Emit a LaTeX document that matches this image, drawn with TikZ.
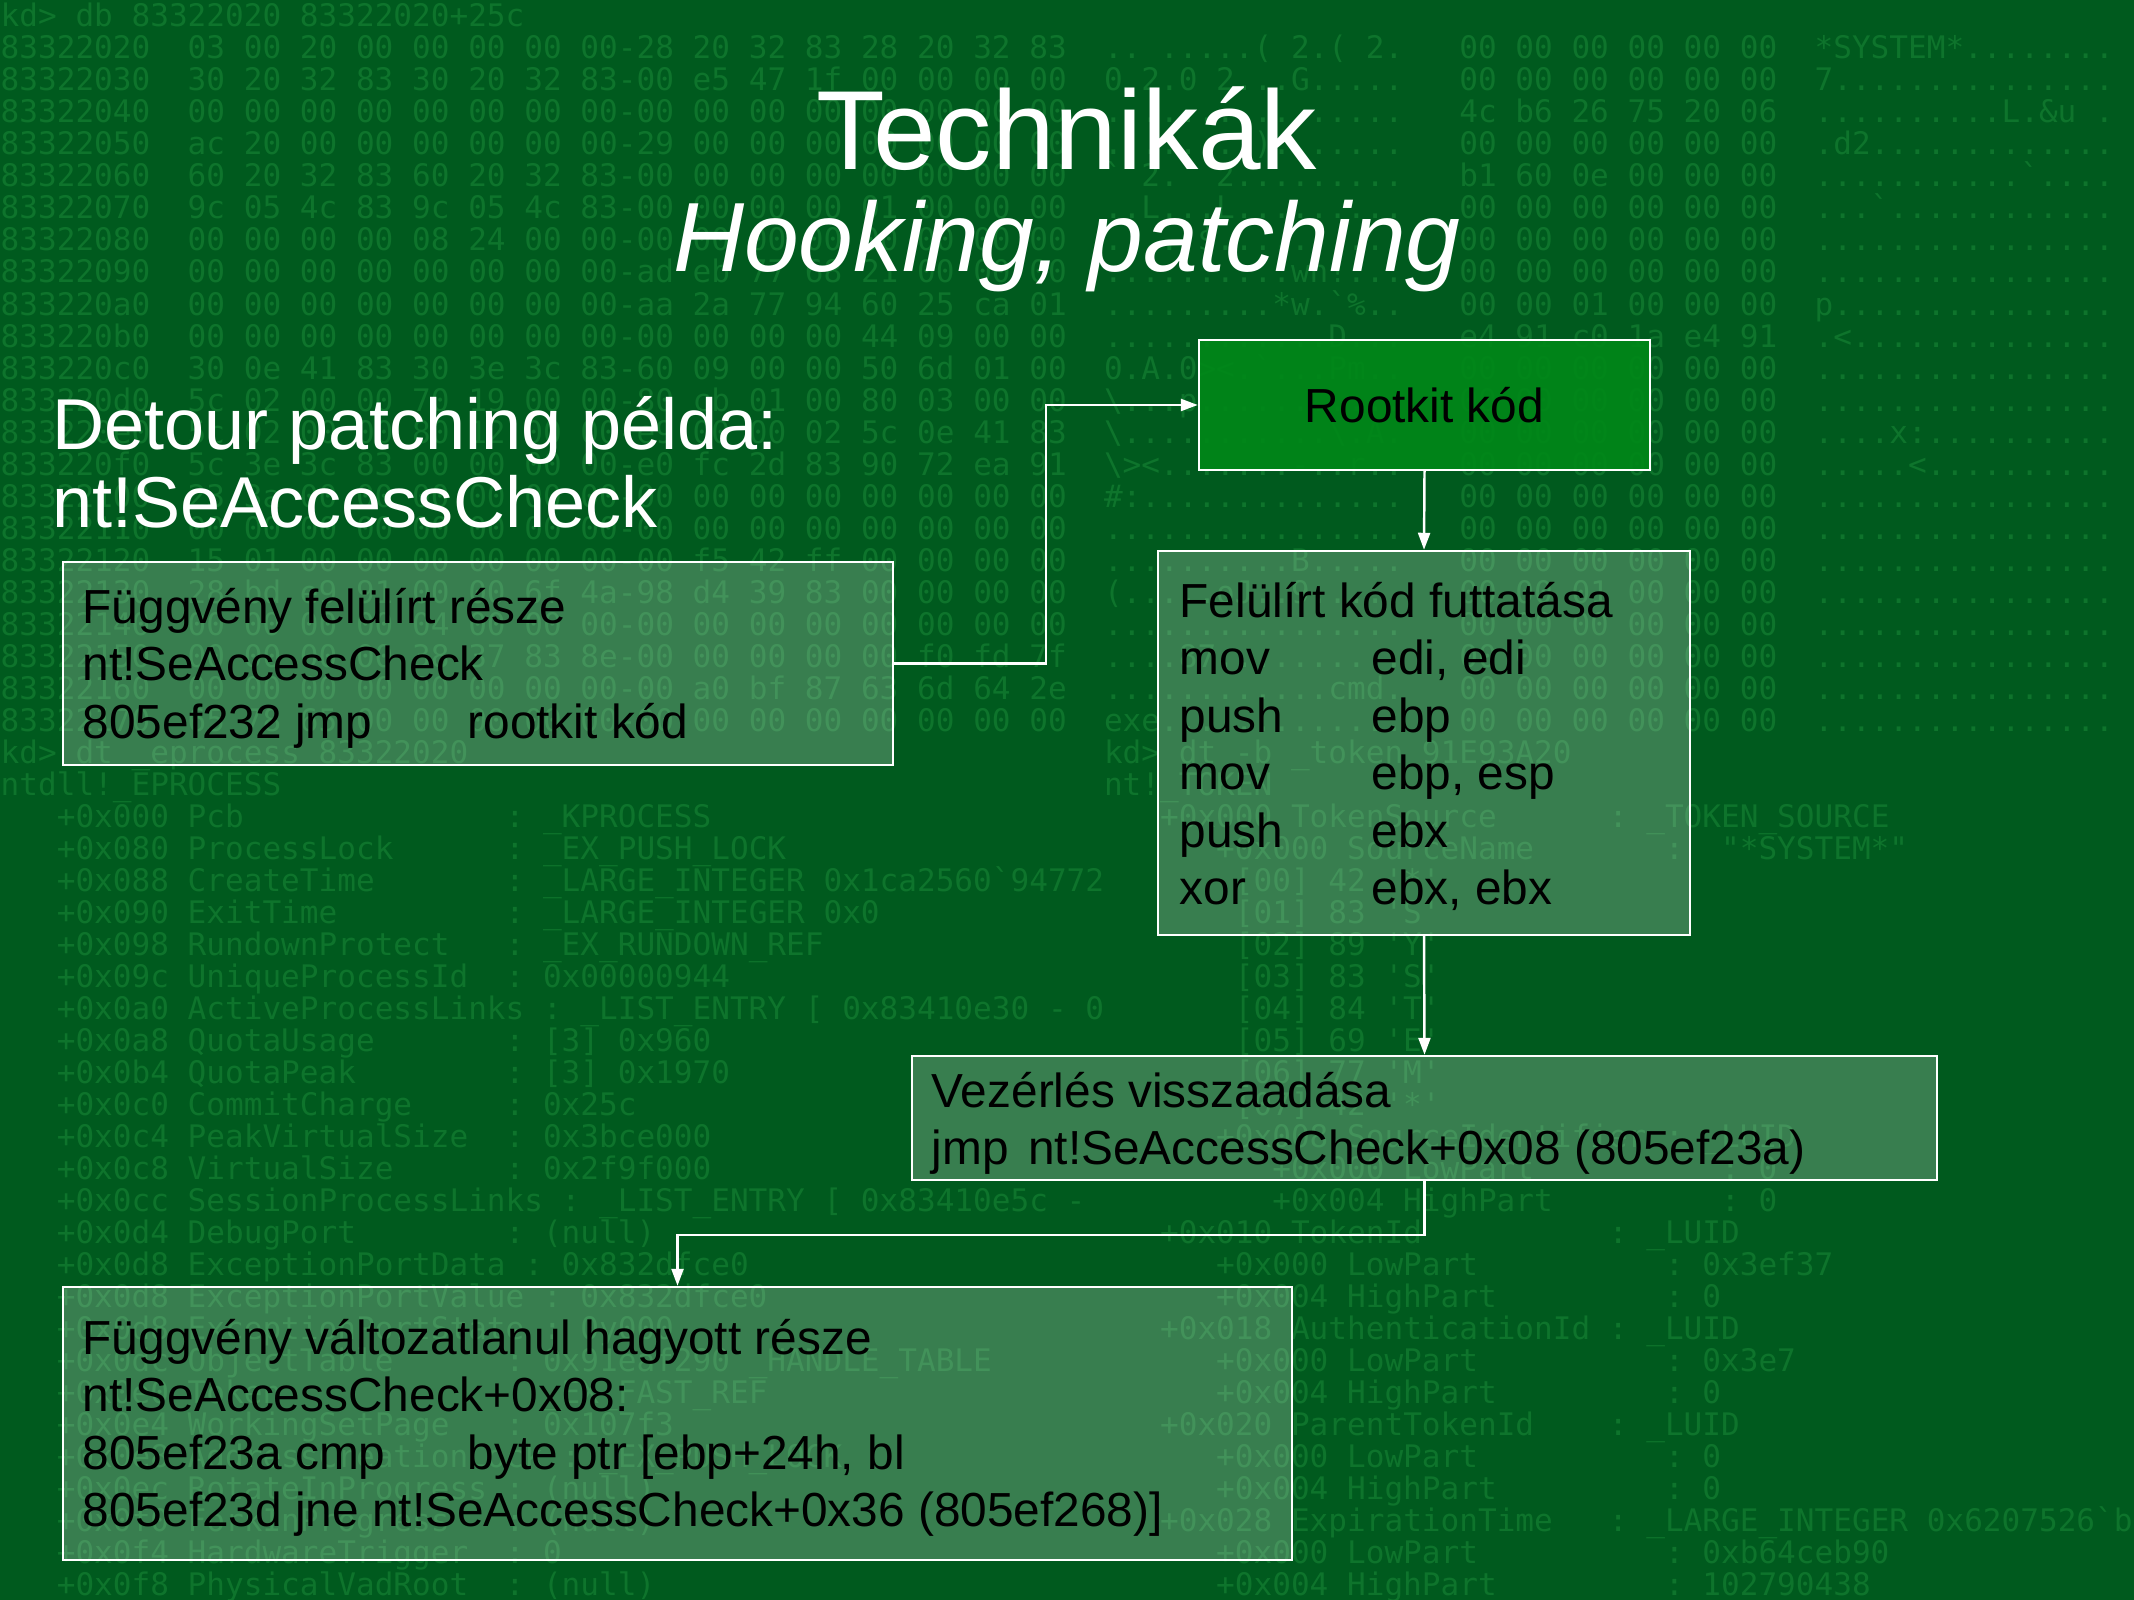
\documentclass[tikz,border=0pt]{standalone}
\usepackage{fontspec}
\setmainfont{Liberation Sans}
\setmonofont{DejaVu Sans Mono}
\usetikzlibrary{arrows.meta}

\definecolor{slidebg}{RGB}{0,90,30}
\definecolor{dumpgreen}{RGB}{14,116,44}
\definecolor{rootgreen}{RGB}{0,136,24}

\begin{document}
\begin{tikzpicture}[
    dump/.style={anchor=base west, inner sep=0pt, text=dumpgreen, font=\fontsize{8.84}{10}\ttfamily\frenchspacing},
    panel/.style={draw=white, line width=0.7pt, fill=white, fill opacity=0.22, text opacity=1, inner sep=0pt},
    hook/.style={panel, fill=rootgreen, fill opacity=0.9, font=\fontsize{13.6}{16}\selectfont},
    code/.style={anchor=base west, inner sep=0pt, font=\fontsize{13.6}{16}\selectfont},
    heading/.style={anchor=base west, inner sep=0pt, text=white, font=\fontsize{20.5}{24}\selectfont},
    flow/.style={draw=white, line width=0.7pt, -{Triangle[length=0.17cm,width=0.12cm]}}
]

% Slide background
\useasboundingbox (0,0) rectangle (21.34,-16);
\fill[slidebg] (0,0) rectangle (21.34,-16);

% Debugger dump in the background
\node[dump] (cmd0) at (0,-0.27) {kd> db 83322020 83322020+25c};
\foreach \k/\adr/\hex/\asc/\hexb/\ascb in {
  1/83322020/{03 00 20 00 00 00 00 00-28 20 32 83 28 20 32 83}/{.. .....( 2.( 2.}/{00 00 00 00 00 00}/{*SYSTEM*........},
  2/83322030/{30 20 32 83 30 20 32 83-00 e5 47 1f 00 00 00 00}/{0 2.0 2...G.....}/{00 00 00 00 00 00}/{7...............},
  3/83322040/{00 00 00 00 00 00 00 00-00 00 00 00 00 00 00 00}/{................}/{4c b6 26 75 20 06}/{..........L.\&u .},
  4/83322050/{ac 20 00 00 00 00 00 00-29 00 00 00 00 00 00 00}/{. ......).......}/{00 00 00 00 00 00}/{.d2.............},
  5/83322060/{60 20 32 83 60 20 32 83-00 00 00 00 00 00 00 00}/{` 2.` 2.........}/{b1 60 0e 00 00 00}/{...........`....},
  6/83322070/{9c 05 4c 83 9c 05 4c 83-00 00 00 00 01 00 00 00}/{..L...L.........}/{00 00 00 00 00 00}/{...`............},
  7/83322080/{00 00 00 00 08 24 00 00-00 00 00 00 00 00 00 00}/{.....\$..........}/{00 00 00 00 00 00}/{................},
  8/83322090/{00 00 00 00 00 00 00 00-ad eb 77 68 21 00 00 00}/{..........wh!...}/{00 00 00 00 00 00}/{................},
  9/833220a0/{00 00 00 00 00 00 00 00-aa 2a 77 94 60 25 ca 01}/{.........*w.`\%..}/{00 00 01 00 00 00}/{p...............},
  10/833220b0/{00 00 00 00 00 00 00 00-00 00 00 00 44 09 00 00}/{............D...}/{e4 91 c0 1a e4 91}/{.<..............},
  11/833220c0/{30 0e 41 83 30 3e 3c 83-60 09 00 00 50 6d 01 00}/{0.A.0><.`...Pm..}/{00 00 00 00 00 00}/{................},
  12/833220d0/{5c 02 00 00 70 19 00 00-80 cb 01 00 80 03 00 00}/{\textbackslash...p...........}/{00 00 00 00 00 00}/{................},
  13/833220e0/{5c 02 00 00 80 12 00 00-e9 00 00 02 5c 0e 41 83}/{\textbackslash...........\textbackslash.A.}/{00 00 00 00 00 00}/{....x:..........},
  14/833220f0/{5c 3e 3c 83 00 00 00 00-e0 fc 2d 83 90 72 ea 91}/{\textbackslash><.......-..r..}/{00 00 00 00 00 00}/{.....<..........},
  15/83322100/{23 3a 00 00 00 00 00 00-00 00 00 00 00 00 00 00}/{\#:..............}/{00 00 00 00 00 00}/{................},
  16/83322110/{00 00 00 00 00 00 00 00-00 00 00 00 00 00 00 00}/{................}/{00 00 00 00 00 00}/{................},
  17/83322120/{15 01 00 00 00 00 00 00-00 f5 42 ff 00 00 00 00}/{..........B.....}/{00 00 00 00 00 00}/{................},
  18/83322130/{28 bd e9 91 00 00 6f 4a-98 d4 39 83 00 00 00 00}/{(.....oJ..9.....}/{00 00 01 00 00 00}/{................},
  19/83322140/{00 00 00 00 04 00 00 00-00 00 00 00 00 00 00 00}/{................}/{00 00 00 00 00 00}/{................},
  20/83322150/{00 00 00 00 38 37 83 8e-00 00 00 00 00 f0 fd 7f}/{....87..........}/{00 00 00 00 00 00}/{................},
  21/83322160/{00 00 00 00 00 00 00 00-00 a0 bf 87 63 6d 64 2e}/{............cmd.}/{00 00 00 00 00 00}/{................},
  22/83322170/{65 78 65 00 00 00 00 00-00 00 00 00 00 00 00 00}/{exe.............}/{00 00 00 00 00 00}/{................}}{
  \node[dump] (adr\k) at (0,{-0.27-0.32*\k}) {\adr};
  \node[dump] (hex\k) at ({10*0.187},{-0.27-0.32*\k}) {\hex};
  \node[dump] (asc\k) at ({59*0.187},{-0.27-0.32*\k}) {\asc};
  \node[dump] (hexb\k) at ({78*0.187},{-0.27-0.32*\k}) {\hexb};
  \node[dump] (ascb\k) at ({97*0.187},{-0.27-0.32*\k}) {\ascb};
}

\node[dump] (cmd23) at (0,{-0.27-0.32*23}) {kd> dt \_eprocess 83322020};
\node[dump] (cmd24) at (0,{-0.27-0.32*24}) {ntdll!\_EPROCESS};
\foreach \k/\off/\nm/\cc/\val in {
  25/000/Pcb/27/\_KPROCESS,
  26/080/ProcessLock/27/\_EX\_PUSH\_LOCK,
  27/088/CreateTime/27/\_LARGE\_INTEGER 0x1ca2560`94772,
  28/090/ExitTime/27/\_LARGE\_INTEGER 0x0,
  29/098/RundownProtect/27/\_EX\_RUNDOWN\_REF,
  30/09c/UniqueProcessId/27/0x00000944,
  31/0a0/ActiveProcessLinks/29/{\_LIST\_ENTRY [ 0x83410e30 - 0},
  32/0a8/QuotaUsage/27/{[3] 0x960},
  33/0b4/QuotaPeak/27/{[3] 0x1970},
  34/0c0/CommitCharge/27/0x25c,
  35/0c4/PeakVirtualSize/27/0x3bce000,
  36/0c8/VirtualSize/27/0x2f9f000,
  37/0cc/SessionProcessLinks/30/{\_LIST\_ENTRY [ 0x83410e5c -},
  38/0d4/DebugPort/27/(null),
  39/0d8/ExceptionPortData/28/0x832dfce0,
  40/0d8/ExceptionPortValue/29/0x832dfce0,
  41/0d8/ExceptionPortState/29/0y000,
  42/0dc/ObjectTable/27/0x91eaf290 \_HANDLE\_TABLE,
  43/0e0/Token/27/\_EX\_FAST\_REF,
  44/0e4/WorkingSetPage/27/0x107f3,
  45/0e8/AddressCreationLock/30/\_EX\_PUSH\_LOCK,
  46/0ec/RotateInProgress/27/(null),
  47/0f0/ForkInProgress/27/(null),
  48/0f4/HardwareTrigger/27/0,
  49/0f8/PhysicalVadRoot/27/(null)}{
  \node[dump] (ep\k) at ({3*0.187},{-0.27-0.32*\k}) {+0x\off{} \nm};
  \node[dump] (epv\k) at ({\cc*0.187},{-0.27-0.32*\k}) {: \val};
}

\node[dump] (cmdr23) at ({59*0.187},{-0.27-0.32*23}) {kd> dt -b \_token 91E93A20};
\node[dump] (cmdr24) at ({59*0.187},{-0.27-0.32*24}) {nt!\_TOKEN};
\foreach \k/\c/\nm/\cc/\val in {
  25/62/{+0x000 TokenSource}/86/\_TOKEN\_SOURCE,
  26/65/{+0x000 SourceName}/89/{~"*SYSTEM*"},
  35/65/{+0x008 SourceIdentifier}/89/\_LUID,
  36/68/{+0x000 LowPart}/92/0,
  37/68/{+0x004 HighPart}/92/0,
  38/62/{+0x010 TokenId}/86/\_LUID,
  39/65/{+0x000 LowPart}/89/0x3ef37,
  40/65/{+0x004 HighPart}/89/0,
  41/62/{+0x018 AuthenticationId}/86/\_LUID,
  42/65/{+0x000 LowPart}/89/0x3e7,
  43/65/{+0x004 HighPart}/89/0,
  44/62/{+0x020 ParentTokenId}/86/\_LUID,
  45/65/{+0x000 LowPart}/89/0,
  46/65/{+0x004 HighPart}/89/0,
  47/62/{+0x028 ExpirationTime}/86/{\_LARGE\_INTEGER 0x6207526`b64ceb90},
  48/65/{+0x000 LowPart}/89/0xb64ceb90,
  49/65/{+0x004 HighPart}/89/102790438}{
  \node[dump] (tk\k) at ({\c*0.187},{-0.27-0.32*\k}) {\nm};
  \node[dump] (tkv\k) at ({\cc*0.187},{-0.27-0.32*\k}) {: \val};
}
\foreach \k/\i/\b/\ch in {27/00/42/*, 28/01/83/S, 29/02/89/Y, 30/03/83/S,
                          31/04/84/T, 32/05/69/E, 33/06/77/M, 34/07/42/*}{
  \node[dump] (src\k) at ({66*0.187},{-0.27-0.32*\k}) {[\i] \b{} '\ch'};
}

% Title
\node[anchor=base, inner sep=0pt, text=white, font=\fontsize{32}{38}\selectfont] (title) at (10.67,-1.70) {Technikák};
\node[anchor=base, inner sep=0pt, text=white, font=\fontsize{28}{34}\selectfont\itshape] (subtitle) at (10.67,-2.72) {Hooking, patching};

% Left heading
\node[heading] (head1) at (0.52,-4.50) {Detour patching példa:};
\node[heading] (head2) at (0.52,-5.27) {nt!SeAccessCheck};

% Boxes
\node[panel, minimum width=8.30cm, minimum height=2.03cm] (overwritten) at (4.78,-6.635) {};
\node[hook, minimum width=4.51cm, minimum height=1.30cm] (rootkit) at (14.245,-4.05) {Rootkit kód};
\node[panel, minimum width=5.32cm, minimum height=3.84cm] (replay) at (14.24,-7.43) {};
\node[panel, minimum width=10.25cm, minimum height=1.24cm] (giveback) at (14.245,-11.18) {};
\node[panel, minimum width=12.29cm, minimum height=2.73cm] (unchanged) at (6.775,-14.235) {};

% Box texts
\node[code] (ow1) at (0.82,-6.23) {Függvény felülírt része};
\node[code] (ow2) at (0.82,-6.805) {nt!SeAccessCheck};
\node[code] (ow3) at (0.82,-7.38) {\makebox[3.85cm][l]{805ef232 jmp}rootkit kód};

\node[code] (rp1) at (11.79,-6.17) {Felülírt kód futtatása};
\node[code] (rp2) at (11.79,-6.745) {\makebox[1.92cm][l]{mov}edi, edi};
\node[code] (rp3) at (11.79,-7.32) {\makebox[1.92cm][l]{push}ebp};
\node[code] (rp4) at (11.79,-7.895) {\makebox[1.92cm][l]{mov}ebp, esp};
\node[code] (rp5) at (11.79,-8.47) {\makebox[1.92cm][l]{push}ebx};
\node[code] (rp6) at (11.79,-9.045) {\makebox[1.92cm][l]{xor}ebx, ebx};

\node[code] (gb1) at (9.31,-11.07) {Vezérlés visszaadása};
\node[code] (gb2) at (9.31,-11.645) {\makebox[0.966cm][l]{jmp}nt!SeAccessCheck+0x08 (805ef23a)};

\node[code] (uc1) at (0.82,-13.54) {Függvény változatlanul hagyott része};
\node[code] (uc2) at (0.82,-14.115) {nt!SeAccessCheck+0x08:};
\node[code] (uc3) at (0.82,-14.69) {\makebox[3.85cm][l]{805ef23a cmp}byte ptr [ebp+24h, bl};
\node[code] (uc4) at (0.82,-15.265) {805ef23d jne nt!SeAccessCheck+0x36 (805ef268)]};

% Control flow
\draw[flow] (overwritten.east) -- ++(1.52,0) |- (rootkit.west);
\draw[flow] (rootkit.south) -- (replay.north);
\draw[flow] (replay.south) -- (giveback.north);
\draw[flow] (giveback.south) -- ++(0,-0.54) -| (unchanged.north);

\end{tikzpicture}
\end{document}
